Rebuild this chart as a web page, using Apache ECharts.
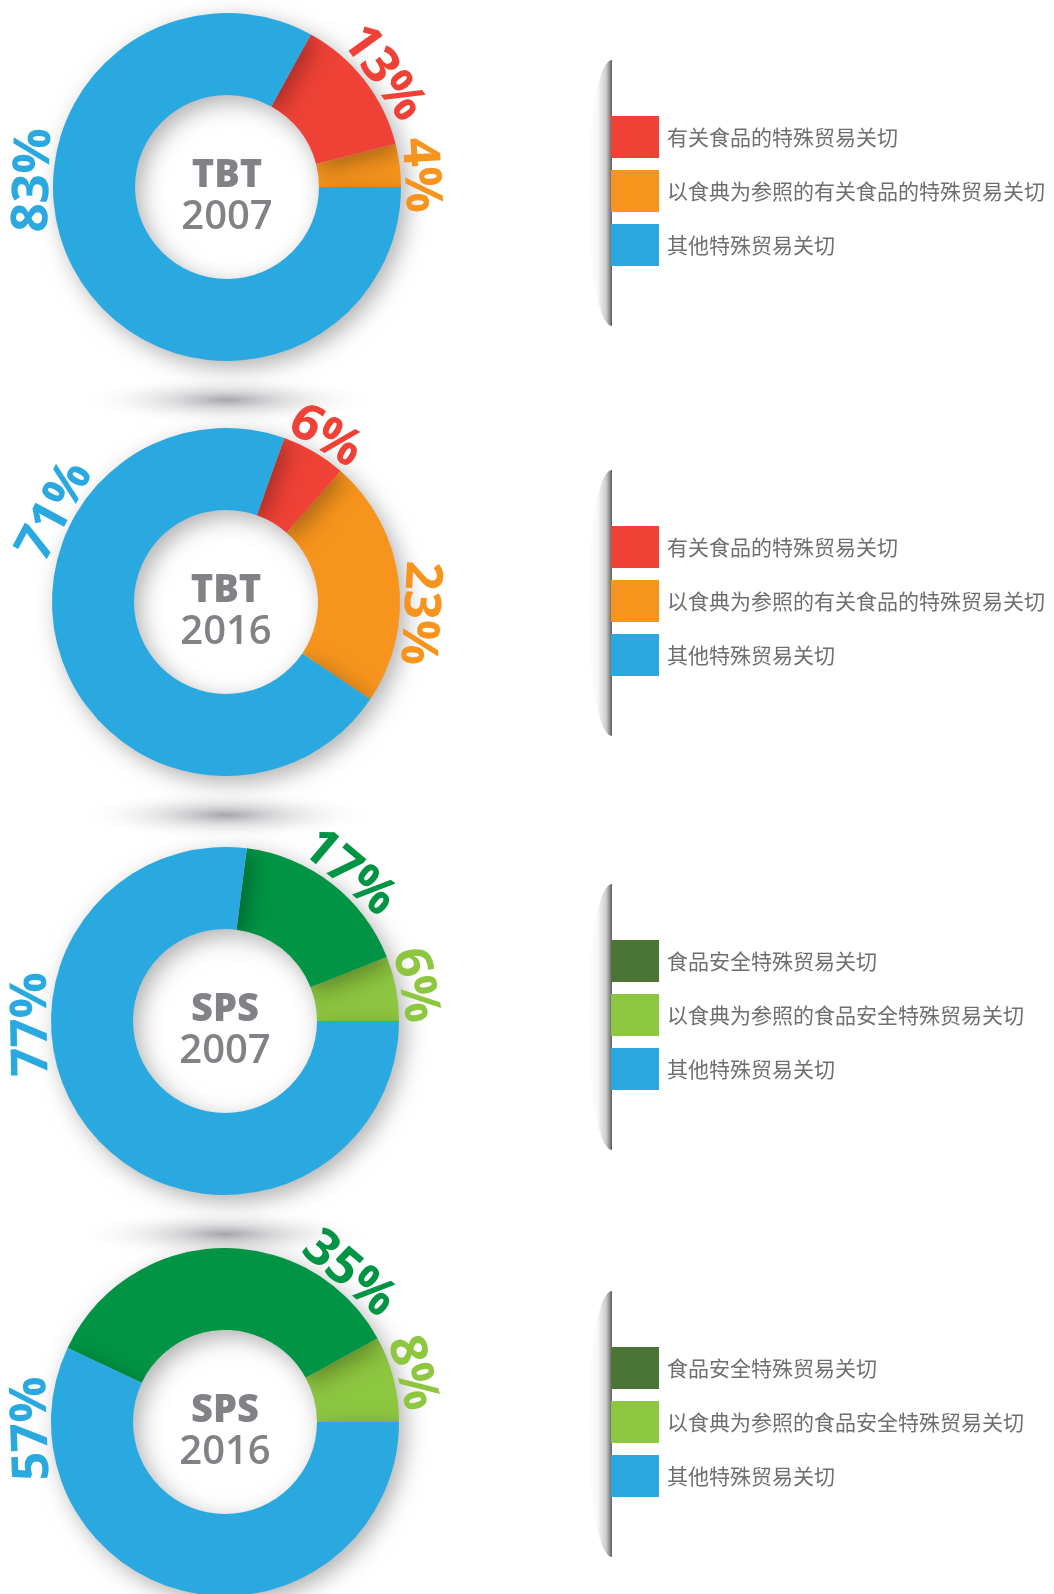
<!DOCTYPE html>
<html>
<head>
<meta charset="utf-8">
<script src="https://cdn.jsdelivr.net/npm/echarts@6/dist/echarts.min.js"></script>
<style>
  html, body { margin: 0; padding: 0; background: #fff; }
  #chart { width: 1054px; height: 1594px; }
</style>
</head>
<body>
<div id="chart"></div>
<script>
// categories
const tbtNames = ['有关食品的特殊贸易关切', '以食典为参照的有关食品的特殊贸易关切', '其他特殊贸易关切'];
const spsNames = ['食品安全特殊贸易关切', '以食典为参照的食品安全特殊贸易关切', '其他特殊贸易关切'];

// shares (%) in category order: food-related, codex-referenced, other
const tbt2007 = [13, 4, 83];
const tbt2016 = [6, 23, 71];
const sps2007 = [17, 6, 77];
const sps2016 = [35, 8, 57];

const kinds = ['TBT', 'TBT', 'SPS', 'SPS'];
const years = ['2007', '2016', '2007', '2016'];

// layout
const tbtColors = ['#ef4136', '#f7941d', '#29a9e0'];
const spsColors = ['#009444', '#8dc63f', '#29a9e0'];
const spsLegendColors = ['#4a7535', '#8dc63f', '#29a9e0'];
const centers = [[227, 187], [226, 602], [225, 1021], [225, 1422]];
const startAngles = [0, -34, 0, 0];
const labelAngles = [[36, 3.5, 178], [59, -3.3, 152], [50, 10.7, 181], [50, 14.7, 182]];
const labelRadius = 193;
const legendTops = [116, 526, 940, 1347];
const order = [1, 0, 2]; // codex slice starts at startAngle, then food, then other (counter-clockwise)

const charts = [
  { names: tbtNames, values: tbt2007, colors: tbtColors, legendColors: tbtColors },
  { names: tbtNames, values: tbt2016, colors: tbtColors, legendColors: tbtColors },
  { names: spsNames, values: sps2007, colors: spsColors, legendColors: spsLegendColors },
  { names: spsNames, values: sps2016, colors: spsColors, legendColors: spsLegendColors },
];

const el = document.getElementById('chart');
const chart = echarts.init(el, null, { renderer: 'canvas' });

const series = charts.map((c, k) => ({
  type: 'pie',
  center: centers[k],
  radius: [92, 174],
  startAngle: startAngles[k],
  clockwise: false,
  avoidLabelOverlap: false,
  silent: true,
  emphasis: { disabled: true },
  itemStyle: {
    shadowBlur: 22, shadowColor: 'rgba(0,0,0,0.3)', shadowOffsetX: 6, shadowOffsetY: 7,
  },
  label: {
    show: true, position: 'inside', formatter: '{c}%',
    fontFamily: 'Open Sans', fontWeight: 'bold', fontSize: 51,
  },
  labelLine: { show: false },
  labelLayout: p => {
    const a = labelAngles[k][order[p.dataIndex]];
    const rad = a * Math.PI / 180;
    return {
      x: centers[k][0] + labelRadius * Math.cos(rad),
      y: centers[k][1] - labelRadius * Math.sin(rad),
      rotate: a - 90, align: 'center', verticalAlign: 'middle',
    };
  },
  data: order.map(i => ({
    name: c.names[i], value: c.values[i],
    itemStyle: { color: c.colors[i] },
    label: { color: c.colors[i] },
  })),
}));

const legend = charts.map((c, k) => ({
  orient: 'vertical', left: 611, top: legendTops[k], padding: 0,
  itemWidth: 48, itemHeight: 42, itemGap: 12, icon: 'rect', selectedMode: false,
  itemStyle: { shadowBlur: 0, shadowOffsetX: 0, shadowOffsetY: 0, shadowColor: 'rgba(0,0,0,0)', borderWidth: 0 },
  textStyle: { fontSize: 21, color: '#6d6e71', fontFamily: 'Noto Sans CJK SC', padding: [2, 0, 0, 3] },
  data: c.names.map((n, i) => ({ name: n, itemStyle: { color: c.legendColors[i] } })),
}));

const graphic = [];
centers.forEach((ct, k) => {
  // soft floor shadow below each donut
  graphic.push({
    type: 'circle', x: ct[0], y: ct[1] + 213, scaleX: 6, z: 0, silent: true,
    shape: { cx: 0, cy: 0, r: 25 },
    style: {
      fill: { type: 'radial', x: 0.5, y: 0.5, r: 0.5, colorStops: [
        { offset: 0, color: 'rgba(150,150,155,0.85)' },
        { offset: 0.35, color: 'rgba(175,175,180,0.45)' },
        { offset: 1, color: 'rgba(255,255,255,0)' },
      ] },
    },
  });
  // centre caption
  graphic.push({
    type: 'text', x: ct[0], y: ct[1] - 11, z: 10, silent: true,
    style: { text: kinds[k], fontFamily: 'Open Sans', fontWeight: 800, fontSize: 38, fill: '#808285', align: 'center', verticalAlign: 'middle' },
  });
  graphic.push({
    type: 'text', x: ct[0], y: ct[1] + 31, z: 10, silent: true,
    style: { text: years[k], fontFamily: 'Open Sans', fontWeight: 600, fontSize: 40, fill: '#808285', align: 'center', verticalAlign: 'middle' },
  });
  // curved shadow edge left of each legend
  graphic.push({
    type: 'ellipse', z: 0, silent: true,
    shape: { cx: 612, cy: legendTops[k] + 77, rx: 24, ry: 133 },
    style: {
      fill: { type: 'linear', x: 0, y: 0, x2: 1, y2: 0, colorStops: [
        { offset: 0, color: 'rgba(0,0,0,0)' },
        { offset: 0.2, color: 'rgba(60,60,60,0.04)' },
        { offset: 0.38, color: 'rgba(50,50,50,0.25)' },
        { offset: 0.499, color: 'rgba(40,40,40,0.75)' },
        { offset: 0.5, color: 'rgba(0,0,0,0)' },
        { offset: 1, color: 'rgba(0,0,0,0)' },
      ] },
    },
  });
});

chart.setOption({
  animation: false,
  backgroundColor: '#fff',
  legend,
  graphic,
  series,
});
</script>
</body>
</html>
